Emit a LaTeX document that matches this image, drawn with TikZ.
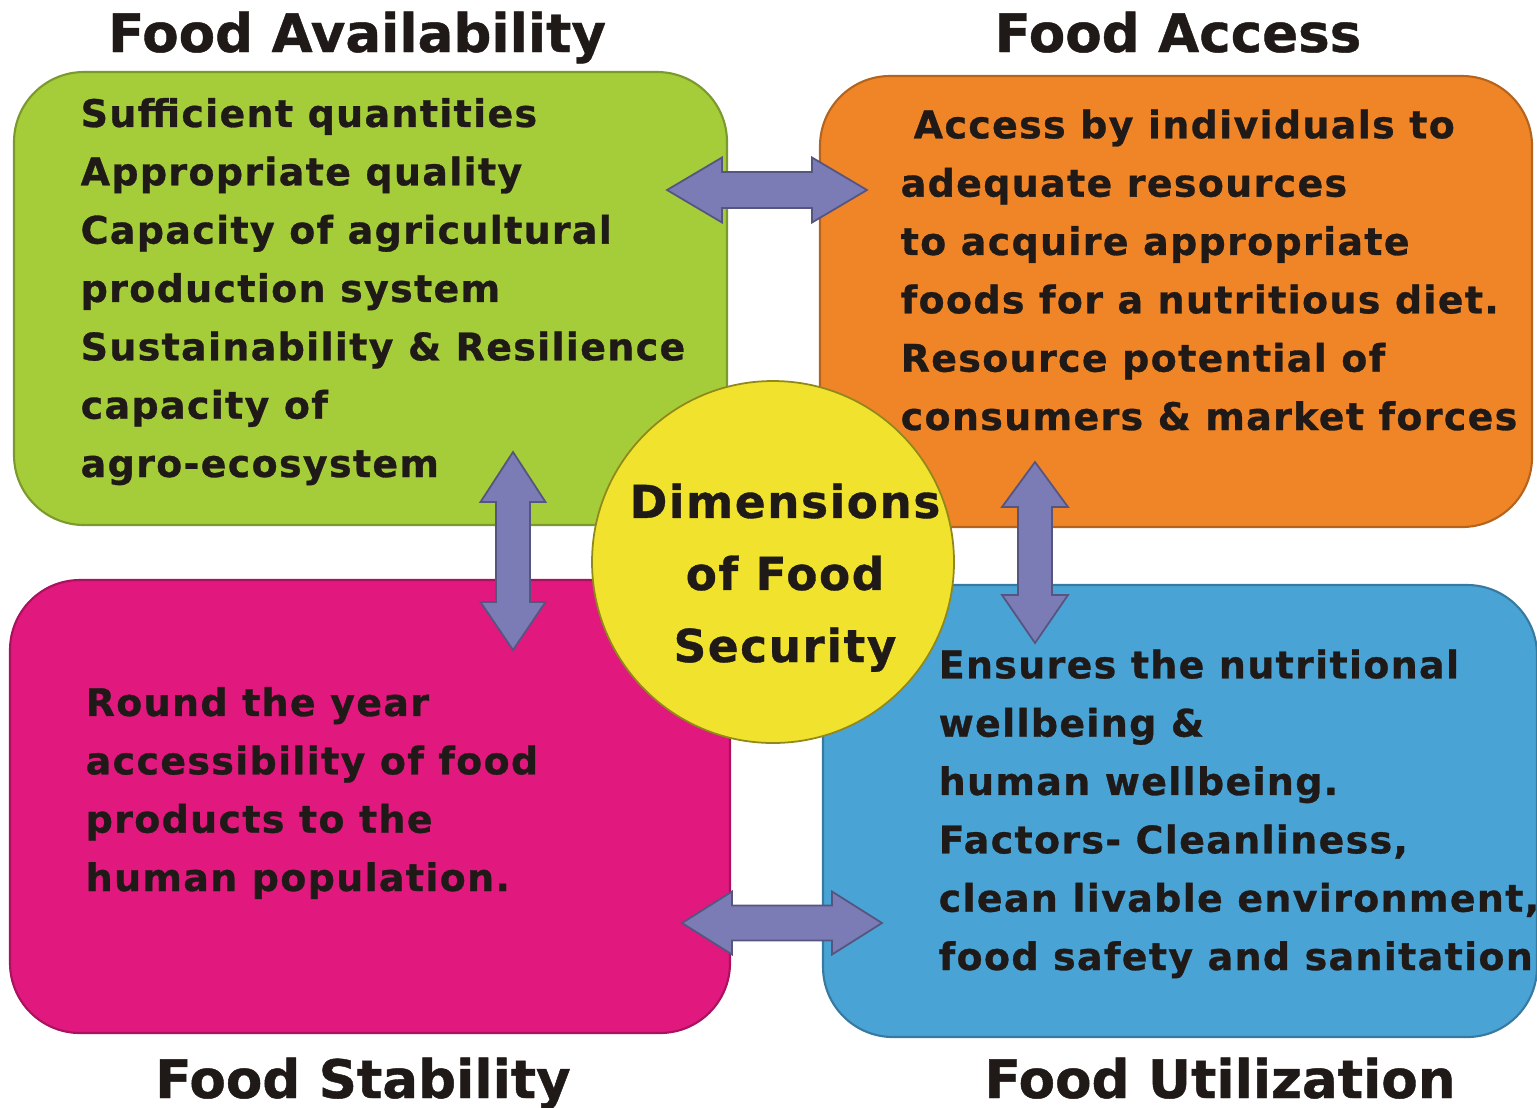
\documentclass[tikz,border=0pt]{standalone}
\usepackage{fontspec}
\setmainfont{DejaVu Sans}
\newfontfamily\widebold{DejaVu Sans}[LetterSpace=3.5, FakeBold=0.8]
\newfontfamily\headbold{DejaVu Sans}[FakeBold=0.8]
\usetikzlibrary{calc}

\definecolor{availgreen}{HTML}{A4CD39}
\definecolor{accessorange}{HTML}{F08527}
\definecolor{stabpink}{HTML}{E1187E}
\definecolor{utilblue}{HTML}{4AA3D5}
\definecolor{hubyellow}{HTML}{F0E22D}
\definecolor{arrowfill}{HTML}{7B7BB5}
\definecolor{arrowline}{HTML}{55557F}
\definecolor{textdark}{HTML}{1F1A17}

\tikzset{
  dimbox/.style={draw=#1!75!black, fill=#1, line width=0.6pt, rounded corners=0.7cm, inner sep=0pt},
  % base anchor of a multi-line node sits on its last line
  boxtext/.style={anchor=base west, align=left, inner sep=0pt, text=textdark,
    font=\widebold\bfseries\fontsize{10.8}{16.6}\selectfont},
  heading/.style={anchor=base, inner sep=0pt, text=textdark,
    font=\headbold\bfseries\fontsize{15.1}{18}\selectfont},
  twoway/.style={fill=arrowfill, draw=arrowline, line width=0.5pt, line join=miter},
}

\begin{document}
\begin{tikzpicture}
    \useasboundingbox (0,0) rectangle (15.37,11.07);

    % the four dimensions
    \node[dimbox=availgreen, minimum width=7.13cm, minimum height=4.53cm] (avail) at (3.705,8.085) {};
    \node[dimbox=accessorange, minimum width=7.12cm, minimum height=4.51cm] (access) at (11.76,8.055) {};
    \node[dimbox=stabpink, minimum width=7.20cm, minimum height=4.53cm] (stab) at (3.70,3.005) {};
    \node[dimbox=utilblue, minimum width=7.14cm, minimum height=4.52cm] (util) at (11.80,2.96) {};

    % two-way arrows between neighbours
    \coordinate (availR) at (6.67,9.17);
    \coordinate (accessL) at (8.67,9.17);
    \draw[twoway] (availR) -- ($(availR)+(0.55,0.325)$) -- ($(availR)+(0.55,0.18)$)
        -- ($(accessL)+(-0.55,0.18)$) -- ($(accessL)+(-0.55,0.325)$) -- (accessL)
        -- ($(accessL)+(-0.55,-0.325)$) -- ($(accessL)+(-0.55,-0.18)$)
        -- ($(availR)+(0.55,-0.18)$) -- ($(availR)+(0.55,-0.325)$) -- cycle;

    \coordinate (stabR) at (6.82,1.84);
    \coordinate (utilL) at (8.82,1.84);
    \draw[twoway] (stabR) -- ($(stabR)+(0.5,0.315)$) -- ($(stabR)+(0.5,0.175)$)
        -- ($(utilL)+(-0.5,0.175)$) -- ($(utilL)+(-0.5,0.315)$) -- (utilL)
        -- ($(utilL)+(-0.5,-0.315)$) -- ($(utilL)+(-0.5,-0.175)$)
        -- ($(stabR)+(0.5,-0.175)$) -- ($(stabR)+(0.5,-0.315)$) -- cycle;

    \coordinate (availB) at (5.13,6.55);
    \coordinate (stabT) at (5.13,4.57);
    \draw[twoway] (availB) -- ($(availB)+(0.325,-0.5)$) -- ($(availB)+(0.17,-0.5)$)
        -- ($(stabT)+(0.17,0.48)$) -- ($(stabT)+(0.325,0.48)$) -- (stabT)
        -- ($(stabT)+(-0.325,0.48)$) -- ($(stabT)+(-0.17,0.48)$)
        -- ($(availB)+(-0.17,-0.5)$) -- ($(availB)+(-0.325,-0.5)$) -- cycle;

    \coordinate (accessB) at (10.35,6.45);
    \coordinate (utilT) at (10.35,4.64);
    \draw[twoway] (accessB) -- ($(accessB)+(0.33,-0.45)$) -- ($(accessB)+(0.17,-0.45)$)
        -- ($(utilT)+(0.17,0.48)$) -- ($(utilT)+(0.33,0.48)$) -- (utilT)
        -- ($(utilT)+(-0.33,0.48)$) -- ($(utilT)+(-0.17,0.48)$)
        -- ($(accessB)+(-0.17,-0.45)$) -- ($(accessB)+(-0.33,-0.45)$) -- cycle;

    % centre circle
    \node[draw=hubyellow!60!black, fill=hubyellow, line width=0.5pt, shape=circle,
          minimum size=3.62cm, inner sep=0pt] (hub) at (7.73,5.45) {};
    \node[anchor=base, align=center, inner sep=0pt, text=textdark,
          font=\widebold\bfseries\fontsize{12.9}{20.5}\selectfont] (hubtext) at (7.85,4.45)
          {Dimensions\\of Food\\Security};

    % box texts
    \node[boxtext] (availtext) at (0.80,6.30) {Sufficient quantities\\Appropriate quality\\
        Capacity of agricultural\\production system\\Sustainability \& Resilience\\
        capacity of\\agro-ecosystem};
    \node[boxtext] (accesstext) at (9.00,6.77) {\hspace*{0.13cm}Access by individuals to\\
        adequate resources\\to acquire appropriate\\foods for a nutritious diet.\\
        Resource potential of\\consumers \& market forces};
    \node[boxtext] (stabtext) at (0.85,2.16) {Round the year\\accessibility of food\\
        products to the\\human population.};
    \node[boxtext] (utiltext) at (9.38,1.37) {Ensures the nutritional\\wellbeing \&\\
        human wellbeing.\\Factors- Cleanliness,\\clean livable environment,\\
        food safety and sanitation};

    % headings
    \node[heading] (availtitle) at (3.57,10.55) {Food Availability};
    \node[heading] (accesstitle) at (11.78,10.55) {Food Access};
    \node[heading] (stabtitle) at (3.63,0.09) {Food Stability};
    \node[heading] (utiltitle) at (12.20,0.09) {Food Utilization};
\end{tikzpicture}
\end{document}
